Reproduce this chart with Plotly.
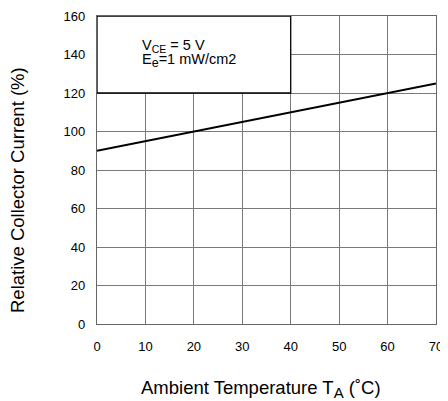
import plotly.graph_objects as go

temps = [0, 70]
rel_current = [90, 125]
x_ticks = [0, 10, 20, 30, 40, 50, 60, 70]
y_ticks = [0, 20, 40, 60, 80, 100, 120, 140, 160]

FONT = "Liberation Sans, Arial"

fig = go.Figure()
fig.add_trace(go.Scatter(x=temps, y=rel_current, mode="lines",
                         line=dict(color="black", width=2), showlegend=False))

# legend/annotation box
fig.add_shape(type="rect", x0=0, x1=40, y0=120, y1=160, xref="x", yref="y",
              fillcolor="white", line=dict(color="black", width=1.3), layer="above")

fig.add_annotation(x=8.9, y=144.6, xref="x", yref="y", xanchor="left", yanchor="middle",
                   text='V<sub><span style="font-size:10.5px">CE</span></sub> = 5 V',
                   showarrow=False, align="left",
                   font=dict(family=FONT, size=14.5, color="black"))
fig.add_annotation(x=8.9, y=136.9, xref="x", yref="y", xanchor="left", yanchor="middle",
                   text='E<sub><span style="font-size:12.5px">e</span></sub>=1 mW/cm2',
                   showarrow=False, align="left",
                   font=dict(family=FONT, size=14.5, color="black"))

# axis titles
fig.add_annotation(x=0.485, y=-0.21, xref="paper", yref="paper", xanchor="center", yanchor="middle",
                   text='Ambient Temperature T<sub><span style="font-size:15px">A</span></sub> (˚C)',
                   showarrow=False,
                   font=dict(family=FONT, size=18.5, color="black"))
fig.add_annotation(x=-0.236, y=0.435, xref="paper", yref="paper", xanchor="center", yanchor="middle",
                   text="Relative Collector Current (%)", showarrow=False, textangle=-90,
                   font=dict(family=FONT, size=18.5, color="black"))

axis_common = dict(showgrid=True, gridcolor="#7a7a7a", gridwidth=1,
                   showline=True, linecolor="#666", linewidth=1.3, mirror=True,
                   zeroline=False, ticks="", automargin=False,
                   tickfont=dict(family=FONT, size=13, color="black"))

fig.update_xaxes(range=[0, 70], tickvals=x_ticks, ticklabelstandoff=10, **axis_common)
fig.update_yaxes(range=[0, 160], tickvals=y_ticks, ticklabelstandoff=8, **axis_common)

# page body has an 8px margin, so the figure is offset by (8, 8)
fig.update_layout(width=440, height=393, margin=dict(l=89, r=12, t=8, b=77),
                  plot_bgcolor="white", paper_bgcolor="white")

fig.write_html("out.html")
